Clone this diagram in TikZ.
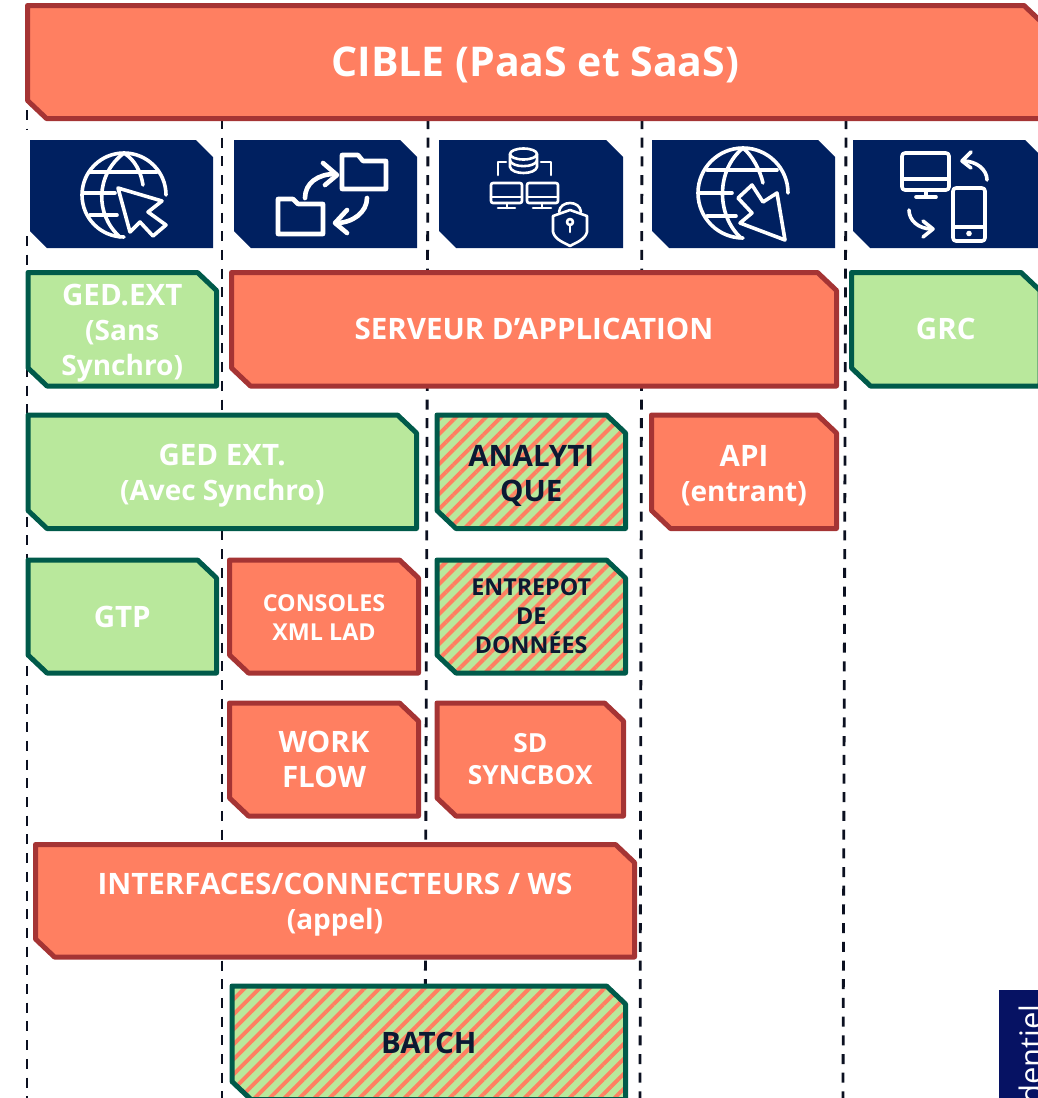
\documentclass[tikz,border=0pt]{standalone}
\usepackage{fontspec}
\setmainfont{Open Sans}
\usepackage{tikz}
\usetikzlibrary{patterns.meta}
\usepackage{xcolor}

\definecolor{redfill}{HTML}{FF7F61}
\definecolor{redline}{HTML}{A53434}
\definecolor{greenfill}{HTML}{B9E89C}
\definecolor{greenline}{HTML}{005A4A}
\definecolor{navyfill}{HTML}{002060}
\definecolor{confblue}{HTML}{061263}
\definecolor{darktext}{HTML}{0B1A33}
\definecolor{sepline}{HTML}{0B1020}

\tikzset{
    boxred/.style={draw=redline,fill=redfill,line width=5pt,line join=round},
    boxgreen/.style={draw=greenline,fill=greenfill,line width=5pt,line join=round},
    boxhatch/.style={draw=greenline,line width=5pt,line join=round,preaction={fill=greenfill},
        pattern={Lines[angle=45,distance=10.6pt,line width=4pt]},pattern color=redfill},
    boxnavy/.style={fill=navyfill},
    labeltitle/.style={font=\fontsize{41}{47}\selectfont\bfseries,text=white,inner sep=0pt,yshift=-3pt},
    labelbig/.style={font=\fontsize{29.5}{35}\selectfont\bfseries,text=white,align=center,inner sep=0pt},
    labelsmall/.style={font=\fontsize{23.3}{29}\selectfont\bfseries,text=white,align=center,inner sep=0pt},
    labeldark/.style={text=darktext},
    labeldrop/.style={yshift=-4pt},
    sepdash/.style={draw=sepline,line width=2.8pt,dash pattern=on 10pt off 8.7pt},
    iconline/.style={draw=white,line width=3.6pt,line join=round,line cap=round},
    iconwide/.style={draw=white,line width=4.6pt,line join=round,line cap=round},
    iconthin/.style={draw=white,line width=2.6pt,line join=round,line cap=round}
}

% name, box style, label style, x1, y1, x2, y2, text
\newcommand{\snipbox}[8]{
    \draw[#2] (#4,#5) -- ({#6-19},#5) -- (#6,{#5+18}) -- (#6,#7) -- ({#4+19},#7) -- (#4,{#7-18}) -- cycle;
    \node[#3] (#1) at ({(#4+#6)/2},{(#5+#7)/2}) {#8};
}
% name, x1, x2
\newcommand{\iconbox}[3]{
    \fill[boxnavy] (#2,140) -- ({#3-17},140) -- (#3,157) -- (#3,248) -- ({#2+17},248) -- (#2,231) -- cycle;
    \coordinate (#1) at ({(#2+#3)/2},194);
}
% lower case lines run a little narrower
\newcommand{\lowline}[1]{{\fontsize{28}{35}\selectfont #1}}

\begin{document}
\begin{tikzpicture}[x=1pt,y=-1pt]
    \useasboundingbox (0,0) rectangle (1038,1098);

    % column separators
    \coordinate (sepatop) at (27,110);
    \coordinate (sepagap) at (27,129);
    \coordinate (sepamid) at (27,236);
    \coordinate (sepabot) at (27,1098);
    \coordinate (sepbtop) at (222,119);
    \coordinate (sepbbot) at (222,1098);
    \coordinate (sepctop) at (428,119);
    \coordinate (sepcbot) at (425,1098);
    \coordinate (sepdtop) at (642,119);
    \coordinate (sepdbot) at (640,1098);
    \coordinate (sepetop) at (846,119);
    \coordinate (sepebot) at (843,1098);
    \draw[sepdash] (sepatop) -- (sepagap);
    \draw[sepdash] (sepamid) -- (sepabot);
    \draw[sepdash] (sepbtop) -- (sepbbot);
    \draw[sepdash] (sepctop) -- (sepcbot);
    \draw[sepdash] (sepdtop) -- (sepdbot);
    \draw[sepdash] (sepetop) -- (sepebot);

    % title
    \snipbox{cible}{boxred}{labeltitle}{27.5}{5.5}{1043}{118.5}{CIBLE (PaaS et SaaS)}

    % icon row
    \iconbox{iconweb}{30}{213}
    \iconbox{iconfolder}{234}{417}
    \iconbox{icondata}{439}{623}
    \iconbox{iconglobe}{652}{835}
    \iconbox{icondevice}{853}{1042}

    % globe with cursor
    \draw[iconline] (124,237) arc[start angle=90,end angle=360,radius=42];
    \draw[iconline] (124,153) .. controls (95,175) and (95,215) .. (120,237);
    \draw[iconline] (124,153) .. controls (135,160) and (141,172) .. (143,185);
    \draw[iconline] (90,172) -- (157,172);
    \draw[iconline] (83,193) -- (115,193);
    \draw[iconline] (90,215) -- (117,215);
    \draw[iconline] (118,188) -- (162,201) -- (148,212) -- (166,225) -- (153,236) -- (140,222) -- (130,232) -- cycle;

    % folders
    \draw[iconwide] (342,155) -- (358,155) -- (363,161) -- (386,161) -- (386,189) -- (342,189) -- cycle;
    \draw[iconwide] (278,199) -- (293,199) -- (298,204) -- (323,204) -- (323,234) -- (278,234) -- cycle;
    \draw[iconwide] (305,198) .. controls (305,183) and (318,174) .. (335,174);
    \draw[iconwide] (323,163) -- (337,175) -- (325,185);
    \draw[iconwide] (367,198) .. controls (367,212) and (353,223) .. (336,223);
    \draw[iconwide] (347,210) -- (335,223) -- (347,233);

    % data and lock
    \draw[iconthin] (510,154) arc[start angle=180,end angle=-180,x radius=13.5,y radius=5.5];
    \draw[iconthin] (510,154) -- (510,167) .. controls (512,175) and (535,175) .. (537,167) -- (537,154);
    \draw[iconthin] (510,160.5) .. controls (512,168) and (535,168) .. (537,160.5);
    \draw[iconthin] (498,175) -- (498,162) -- (506,162);
    \draw[iconthin] (541,162) -- (551,162) -- (551,175);
    \draw[iconthin,rounded corners=2pt] (491,183) rectangle (522,203);
    \draw[iconthin] (491,197) -- (522,197);
    \draw[iconthin] (507,203) -- (507,208);
    \draw[iconthin] (498,208) -- (515,208);
    \draw[iconthin,rounded corners=2pt] (527,183) rectangle (558,203);
    \draw[iconthin] (527,197) -- (558,197);
    \draw[iconthin] (542,203) -- (542,208);
    \draw[iconthin] (533,208) -- (551,208);
    \draw[iconthin] (570,210) -- (587,216) -- (587,232) .. controls (585,240) and (575,243) .. (570,246) .. controls (565,243) and (555,240) .. (553,232) -- (553,216) -- cycle;
    \draw[iconthin] (559,212) .. controls (560,200) and (580,200) .. (581,212);
    \draw[iconthin] (570,222) circle[radius=3];
    \draw[iconthin] (570,225) -- (570,232);

    % globe with reversed cursor
    \draw[iconline] (743,238) arc[start angle=90,end angle=360,radius=45];
    \draw[iconline] (743,148) .. controls (716,170) and (716,215) .. (741,238);
    \draw[iconline] (743,148) .. controls (752,155) and (760,170) .. (763,183);
    \draw[iconline] (707,170) -- (777,170);
    \draw[iconline] (699,193) -- (732,193);
    \draw[iconline] (707,216) -- (736,216);
    \draw[iconline] (785,240) -- (777,193) -- (763,202) -- (752,185) -- (738,198) -- (752,213) -- (740,223) -- cycle;

    % screen and phone
    \draw[iconline,rounded corners=3pt] (902,153) rectangle (949,190);
    \draw[iconline] (902,179) -- (949,179);
    \draw[iconline] (926,190) -- (926,197);
    \draw[iconline] (916,197) -- (936,197);
    \draw[iconline,rounded corners=3pt] (953,188) rectangle (985,241);
    \draw[iconline] (953,227) -- (985,227);
    \fill[white] (969,233.5) circle[radius=2.8];
    \draw[iconline] (987,180) .. controls (987,170) and (977,161) .. (963,161);
    \draw[iconline] (971,152) -- (962,161) -- (971,168);
    \draw[iconline] (909,210) .. controls (909,220) and (918,229) .. (932,229);
    \draw[iconline] (923,221) -- (933,229) -- (923,237);

    % boxes
    \snipbox{gedsans}{boxgreen}{labelbig,labeldrop}{28}{272.5}{216.5}{386}{GED.EXT\\\lowline{(Sans}\\\lowline{Synchro)}}
    \snipbox{serveur}{boxred}{labelbig}{231.5}{272.5}{836.5}{386}{SERVEUR D’APPLICATION}
    \snipbox{grc}{boxgreen}{labelbig}{851.5}{272.5}{1040}{386}{GRC}

    \snipbox{gedavec}{boxgreen}{labelbig,labeldrop}{28}{415}{416.5}{528.5}{GED EXT.\\\lowline{(Avec Synchro)}}
    \snipbox{analytique}{boxhatch}{labelbig,labeldark,labeldrop}{437}{415}{625.5}{528.5}{ANALYTI\\QUE}
    \snipbox{api}{boxred}{labelbig,labeldrop}{651.5}{415}{836.5}{528.5}{API\\\lowline{(entrant)}}

    \snipbox{gtp}{boxgreen}{labelbig}{28}{560}{216.5}{673}{GTP}
    \snipbox{consoles}{boxred}{labelsmall,yshift=-1.5pt}{229.5}{560}{418.5}{673}{CONSOLES\\XML LAD}
    \snipbox{entrepot}{boxhatch}{labelsmall,labeldark}{437}{560}{625.5}{673}{ENTREPOT\\DE\\DONNÉES}

    \snipbox{workflow}{boxred}{labelbig}{229.5}{703}{418.5}{816}{WORK\\FLOW}
    \snipbox{syncbox}{boxred}{labelsmall,font=\fontsize{26.3}{32}\selectfont\bfseries}{437}{703}{623.5}{816}{SD\\SYNCBOX}

    \snipbox{interfaces}{boxred}{labelbig,labeldrop}{35.5}{844.5}{634.5}{957}{INTERFACES/CONNECTEURS / WS\\\lowline{(appel)}}
    \snipbox{batch}{boxhatch}{labelbig,labeldark}{232}{986}{625.5}{1099.5}{BATCH}

    % side tab
    \fill[confblue] (999,990) rectangle (1040,1100);
    \node[rotate=90,anchor=base east,inner sep=0pt,text=white,font=\fontsize{31}{31}\selectfont] (sidetab) at (1042,1004) {dentiel};
\end{tikzpicture}
\end{document}
